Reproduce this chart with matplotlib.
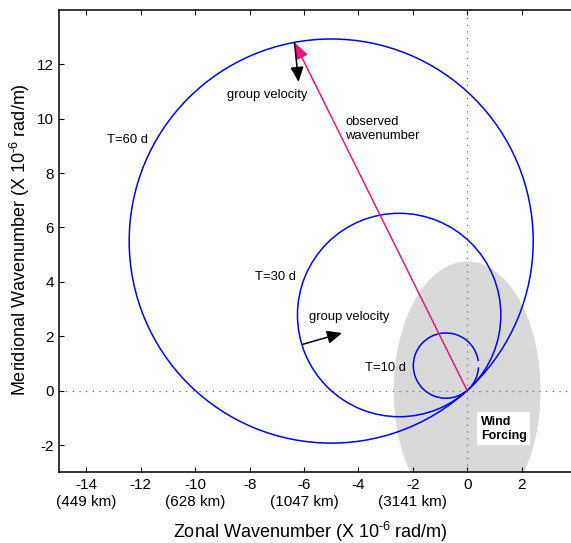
import matplotlib
matplotlib.use("Agg")
import matplotlib.pyplot as plt
from matplotlib.patches import Arc, Ellipse

plt.rcParams['font.family'] = ['Liberation Sans', 'DejaVu Sans']
plt.rcParams['mathtext.fontset'] = 'custom'
plt.rcParams['mathtext.rm'] = 'Liberation Sans'
plt.rcParams['mathtext.it'] = 'Liberation Sans:italic'
plt.rcParams['axes.unicode_minus'] = False

# ---- data ----
period_labels = ['T=60 d', 'T=30 d', 'T=10 d']
circle_k = [-5.0, -2.5, -0.78]          # circle centres, zonal
circle_l = [5.5, 2.78, 0.92]            # circle centres, meridional
circle_r = [7.43, 3.74, 1.2]            # radii
arc_start = [0, 0, 8]                   # arc drawn from (deg)
arc_end = [360, 360, 357]               # arc drawn to (deg)
label_k = [-13.25, -7.8, -3.75]
label_l = [9.2, 4.19, 0.83]

forcing_k, forcing_l = 0.0, 0.0
forcing_w, forcing_h = 5.4, 9.5

obs_tail = (0.0, 0.0)
obs_head = (-6.35, 12.8)
gv1_tail = (-6.35, 12.8)
gv1_head = (-6.2, 11.35)
gv2_tail = (-6.05, 1.7)
gv2_head = (-4.6, 2.12)

xticks = [-14, -12, -10, -8, -6, -4, -2, 0, 2]
xticklabels = ['-14\n(449 km)', '-12', '-10\n(628 km)', '-8', '-6\n(1047 km)',
               '-4', '-2\n(3141 km)', '0', '2']
yticks = [-2, 0, 2, 4, 6, 8, 10, 12]

# ---- figure ----
fig = plt.figure(figsize=(5.71, 5.43), dpi=100)
ax = fig.add_axes([59.3 / 571, (543 - 472.2) / 543, 516.6 / 571, 462.3 / 543])
ax.set_xlim(-15, 4)
ax.set_ylim(-3, 14)

ax.add_patch(Ellipse((forcing_k, forcing_l), forcing_w, forcing_h,
                     facecolor='#d9d9d9', edgecolor='none', zorder=0))
ax.axhline(0, color='#555555', lw=0.8, ls=(0, (1, 5)), zorder=1)
ax.axvline(0, color='#555555', lw=0.8, ls=(0, (1, 5)), zorder=1)

for k, l, r, t1, t2 in zip(circle_k, circle_l, circle_r, arc_start, arc_end):
    ax.add_patch(Arc((k, l), 2 * r, 2 * r, theta1=t1, theta2=t2,
                     color='#0000ff', lw=1.1, zorder=3))

for lab, k, l in zip(period_labels, label_k, label_l):
    ax.text(k, l, lab, fontsize=9.4, ha='left', va='center', zorder=5)

ax.annotate('', xy=obs_head, xytext=obs_tail,
            arrowprops=dict(arrowstyle='-|>,head_length=1.0,head_width=0.4',
                            color='#f0147f', lw=1.1, shrinkA=0, shrinkB=0),
            zorder=4)
for tail, head in [(gv1_tail, gv1_head), (gv2_tail, gv2_head)]:
    ax.annotate('', xy=head, xytext=tail,
                arrowprops=dict(arrowstyle='-|>,head_length=0.9,head_width=0.4',
                                color='black', lw=1.1, shrinkA=0, shrinkB=0),
                zorder=4)

ax.text(-8.83, 10.88, 'group velocity', fontsize=9.4, ha='left', va='center')
ax.text(-5.83, 2.71, 'group velocity', fontsize=9.4, ha='left', va='center')
ax.text(-4.48, 9.62, 'observed\nwavenumber', fontsize=9.4, ha='left', va='center',
        linespacing=1.3)
ax.text(0.5, -1.4, 'Wind\nForcing', fontsize=9, fontweight='bold', ha='left',
        va='center', linespacing=1.25,
        bbox=dict(facecolor='white', edgecolor='none', pad=2.5), zorder=6)

ax.set_xticks(xticks)
ax.set_xticklabels(xticklabels, linespacing=1.32)
ax.set_yticks(yticks)
ax.tick_params(direction='in', length=3.6, width=0.8, top=True, right=True,
               labelsize=11, pad=4)
for s in ax.spines.values():
    s.set_linewidth(1.1)

ax.set_xlabel(r'Zonal Wavenumber (X 10$^{\text{-6}}$ rad/m)', fontsize=13)
ax.set_ylabel(r'Meridional Wavenumber (X 10$^{\text{-6}}$ rad/m)', fontsize=13)
ax.xaxis.set_label_coords((310 - 59.3) / 516.6, (472.2 - 519.5) / 462.3)
ax.yaxis.set_label_coords((32 - 59.3) / 516.6, (472.2 - 240) / 462.3)

fig.savefig('out.png', dpi=100)
